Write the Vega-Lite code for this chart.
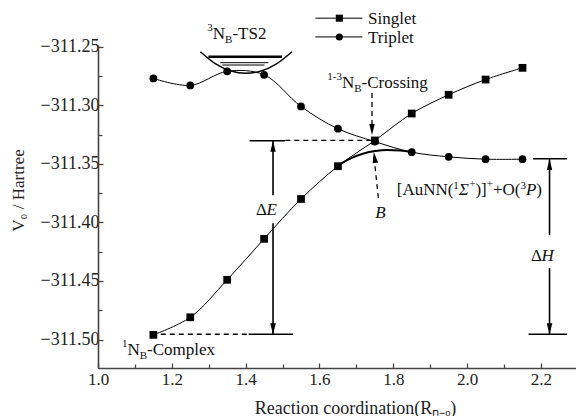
{
  "$schema": "https://vega.github.io/schema/vega-lite/v6.json",
  "width": 478,
  "height": 323,
  "autosize": "none",
  "padding": {"left": 98, "top": 45, "right": 0, "bottom": 48},
  "background": "white",
  "config": {"view": {"stroke": null}, "font": "Liberation Serif"},
  "datasets": {
    "curves": [
      {"series": "Singlet", "x": 1.15, "y": -311.496},
      {"series": "Singlet", "x": 1.25, "y": -311.481},
      {"series": "Singlet", "x": 1.35, "y": -311.449},
      {"series": "Singlet", "x": 1.45, "y": -311.414},
      {"series": "Singlet", "x": 1.55, "y": -311.380},
      {"series": "Singlet", "x": 1.65, "y": -311.352},
      {"series": "Singlet", "x": 1.75, "y": -311.330},
      {"series": "Singlet", "x": 1.85, "y": -311.307},
      {"series": "Singlet", "x": 1.95, "y": -311.291},
      {"series": "Singlet", "x": 2.05, "y": -311.278},
      {"series": "Singlet", "x": 2.15, "y": -311.268},
      {"series": "Triplet", "x": 1.15, "y": -311.277},
      {"series": "Triplet", "x": 1.25, "y": -311.283},
      {"series": "Triplet", "x": 1.35, "y": -311.271},
      {"series": "Triplet", "x": 1.45, "y": -311.274},
      {"series": "Triplet", "x": 1.55, "y": -311.301},
      {"series": "Triplet", "x": 1.65, "y": -311.320},
      {"series": "Triplet", "x": 1.75, "y": -311.331},
      {"series": "Triplet", "x": 1.85, "y": -311.340},
      {"series": "Triplet", "x": 1.95, "y": -311.344},
      {"series": "Triplet", "x": 2.05, "y": -311.346},
      {"series": "Triplet", "x": 2.15, "y": -311.346}
    ],
    "adiab": [
      {"x": 1.6519, "y": -311.351},
      {"x": 1.6835, "y": -311.3455},
      {"x": 1.7196, "y": -311.3412},
      {"x": 1.7512, "y": -311.3391},
      {"x": 1.7829, "y": -311.3382},
      {"x": 1.8190, "y": -311.3385},
      {"x": 1.8500, "y": -311.3400}
    ],
    "arc": [
      {"x": 1.2773, "y": -311.2542},
      {"x": 1.3198, "y": -311.2648},
      {"x": 1.3605, "y": -311.2707},
      {"x": 1.4011, "y": -311.2726},
      {"x": 1.4417, "y": -311.2707},
      {"x": 1.4823, "y": -311.2648},
      {"x": 1.5257, "y": -311.2542}
    ],
    "solidMed": [
      {"x": 1.4108, "x2": 1.5075, "y": -311.3303, "y2": -311.3303},
      {"x": 1.4081, "x2": 1.5284, "y": -311.4955, "y2": -311.4955},
      {"x": 1.4742, "x2": 1.4742, "y": -311.3303, "y2": -311.3767},
      {"x": 1.4742, "x2": 1.4742, "y": -311.4006, "y2": -311.4955},
      {"x": 2.1784, "x2": 2.2704, "y": -311.3456, "y2": -311.3456},
      {"x": 2.1664, "x2": 2.2704, "y": -311.4955, "y2": -311.4955},
      {"x": 2.2233, "x2": 2.2233, "y": -311.3459, "y2": -311.4109},
      {"x": 2.2233, "x2": 2.2233, "y": -311.4391, "y2": -311.4955}
    ],
    "solidThin": [
      {"x": 1.3315, "x2": 1.4616, "y": -311.2636, "y2": -311.2636},
      {"x": 1.337, "x2": 1.451, "y": -311.2656, "y2": -311.2656},
      {"x": 1.5888, "x2": 1.7161, "y": -311.2256, "y2": -311.2256},
      {"x": 1.5888, "x2": 1.7161, "y": -311.2416, "y2": -311.2416}
    ],
    "thick": [
      {"x": 1.299, "x2": 1.4986, "y": -311.2585, "y2": -311.2585}
    ],
    "dashed": [
      {"x": 1.7423, "x2": 1.7423, "y": -311.2895, "y2": -311.322},
      {"x": 1.7596, "x2": 1.7475, "y": -311.3792, "y2": -311.343},
      {"x": 1.5075, "x2": 1.7431, "y": -311.330, "y2": -311.330},
      {"x": 1.17, "x2": 1.4081, "y": -311.4955, "y2": -311.4955}
    ],
    "arrowUp": [
      {"x": 1.4742, "y": -311.3303},
      {"x": 2.2233, "y": -311.3459}
    ],
    "arrowDown": [
      {"x": 1.4742, "y": -311.4955},
      {"x": 2.2233, "y": -311.4955},
      {"x": 1.7423, "y": -311.3254}
    ],
    "arrowB": [
      {"x": 1.7472, "y": -311.3399}
    ],
    "legendPts": [
      {"series": "Singlet", "x": 1.6538, "y": -311.2256},
      {"series": "Triplet", "x": 1.6538, "y": -311.2416}
    ],
    "txt": [
      {"x": 1.3111, "y": -311.2436, "t": "N"},
      {"x": 1.3642, "y": -311.2436, "t": "-TS2"},
      {"x": 1.6611, "y": -311.2855, "t": "N"},
      {"x": 1.7142, "y": -311.2855, "t": "-Crossing"},
      {"x": 1.0799, "y": -311.5134, "t": "N"},
      {"x": 1.1330, "y": -311.5134, "t": "-Complex"},
      {"x": 1.4281, "y": -311.3938, "t": "Δ"},
      {"x": 2.1733, "y": -311.4331, "t": "Δ"},
      {"x": 1.8094, "y": -311.3767, "t": "[AuNN("},
      {"x": 2.0226, "y": -311.3767, "t": ")]"},
      {"x": 2.0700, "y": -311.3767, "t": "+O("},
      {"x": 2.1876, "y": -311.3767, "t": ")"}
    ],
    "legendTxt": [
      {"x": 1.7315, "y": -311.2305, "t": "Singlet"},
      {"x": 1.7315, "y": -311.2468, "t": "Triplet"}
    ],
    "txtI": [
      {"x": 1.4563, "y": -311.3938, "t": "E"},
      {"x": 2.2014, "y": -311.4331, "t": "H"},
      {"x": 1.7512, "y": -311.3963, "t": "B"},
      {"x": 1.9776, "y": -311.3767, "t": "Σ"},
      {"x": 2.1594, "y": -311.3767, "t": "P"}
    ],
    "txtS": [
      {"x": 1.2962, "y": -311.2362, "t": "3"},
      {"x": 1.3444, "y": -311.2472, "t": "B"},
      {"x": 1.6213, "y": -311.2785, "t": "1-3"},
      {"x": 1.6945, "y": -311.2890, "t": "B"},
      {"x": 1.0650, "y": -311.5066, "t": "1"},
      {"x": 1.1133, "y": -311.5168, "t": "B"},
      {"x": 1.9627, "y": -311.3715, "t": "1"},
      {"x": 2.0058, "y": -311.3700, "t": "+"},
      {"x": 2.0532, "y": -311.3700, "t": "+"},
      {"x": 2.1445, "y": -311.3715, "t": "3"}
    ]
  },
  "resolve": {"axis": {"x": "independent", "y": "independent"}},
  "encoding": {
    "x": {"field": "x", "type": "quantitative", "scale": {"domain": [1, 2.295], "nice": false, "zero": false}, "axis": null},
    "y": {"field": "y", "type": "quantitative", "scale": {"domain": [-311.5243, -311.2485], "nice": false, "zero": false}, "axis": null}
  },
  "layer": [
    {
      "data": {"name": "curves"},
      "mark": {"type": "line", "interpolate": "catmull-rom", "stroke": "black", "strokeWidth": 1},
      "encoding": {
        "x": {"field": "x", "type": "quantitative", "scale": {"domain": [1, 2.295], "nice": false, "zero": false},
          "axis": {"orient": "bottom", "values": [1.0, 1.2, 1.4, 1.6, 1.8, 2.0, 2.2], "format": ".1f", "grid": false,
            "labelFont": "Liberation Serif", "labelFontSize": 17, "labelColor": "#222", "labelPadding": 8, "labelFlush": false,
            "tickSize": -5, "tickColor": "#444", "tickWidth": 1.3, "domainColor": "#444", "domainWidth": 1.6,
            "title": "Reaction  coordination(R\u2099\u208b\u2092)", "titleFont": "Liberation Serif", "titleFontSize": 18, "titleFontWeight": "normal", "titleColor": "#222",
            "titleX": 257, "titleY": 40, "titleBaseline": "middle"}},
        "y": {"field": "y", "type": "quantitative", "scale": {"domain": [-311.5243, -311.2485], "nice": false, "zero": false},
          "axis": {"orient": "left", "values": [-311.5, -311.45, -311.4, -311.35, -311.3, -311.25], "format": ".2f", "grid": false,
            "labelFont": "Liberation Serif", "labelFontSize": 18, "labelColor": "#222", "labelPadding": 4, "labelFlush": false,
            "tickSize": -5, "tickColor": "#444", "tickWidth": 1.3, "domainColor": "#444", "domainWidth": 1.6,
            "title": "V\u2080 / Hartree", "titleFont": "Liberation Serif", "titleFontSize": 17, "titleFontWeight": "normal", "titleColor": "#222",
            "titleX": -80, "titleY": 145, "titleAngle": 270, "titleBaseline": "middle", "titleAlign": "center"}},
        "detail": {"field": "series"}
      }
    },
    {
      "data": {"name": "curves"},
      "mark": {"type": "point", "filled": true, "fill": "black", "stroke": null, "size": 60, "opacity": 1},
      "encoding": {
        "x": {"field": "x", "type": "quantitative", "scale": {"domain": [1, 2.295], "nice": false, "zero": false},
          "axis": {"orient": "bottom", "values": [1.1, 1.3, 1.5, 1.7, 1.9, 2.1], "labels": false, "grid": false, "domain": false,
            "tickSize": -4, "tickColor": "#444", "tickWidth": 1.3, "title": null}},
        "y": {"field": "y", "type": "quantitative", "scale": {"domain": [-311.5243, -311.2485], "nice": false, "zero": false},
          "axis": {"orient": "left", "values": [-311.475, -311.425, -311.375, -311.325, -311.275], "labels": false, "grid": false, "domain": false,
            "tickSize": -4, "tickColor": "#444", "tickWidth": 1.3, "title": null}},
        "shape": {"field": "series", "type": "nominal", "scale": {"domain": ["Singlet", "Triplet"], "range": ["square", "circle"]}, "legend": null}
      }
    },
    {
      "data": {"name": "legendPts"},
      "mark": {"type": "point", "filled": true, "fill": "black", "stroke": null, "size": 50, "opacity": 1},
      "encoding": {
        "shape": {"field": "series", "type": "nominal", "scale": {"domain": ["Singlet", "Triplet"], "range": ["square", "circle"]}, "legend": null}
      }
    },
    {
      "data": {"name": "adiab"},
      "mark": {"type": "line", "interpolate": "monotone", "stroke": "black", "strokeWidth": 2},
      "encoding": {}
    },
    {
      "data": {"name": "arc"},
      "mark": {"type": "line", "interpolate": "monotone", "stroke": "black", "strokeWidth": 1.4},
      "encoding": {}
    },
    {
      "data": {"name": "solidMed"},
      "mark": {"type": "rule", "stroke": "black", "strokeWidth": 1.6},
      "encoding": {"x2": {"field": "x2"}, "y2": {"field": "y2"}}
    },
    {
      "data": {"name": "solidThin"},
      "mark": {"type": "rule", "stroke": "black", "strokeWidth": 1},
      "encoding": {"x2": {"field": "x2"}, "y2": {"field": "y2"}}
    },
    {
      "data": {"name": "thick"},
      "mark": {"type": "rule", "stroke": "black", "strokeWidth": 2.6},
      "encoding": {"x2": {"field": "x2"}, "y2": {"field": "y2"}}
    },
    {
      "data": {"name": "dashed"},
      "mark": {"type": "rule", "stroke": "black", "strokeWidth": 1.3, "strokeDash": [5, 4]},
      "encoding": {"x2": {"field": "x2"}, "y2": {"field": "y2"}}
    },
    {
      "data": {"name": "arrowUp"},
      "mark": {"type": "point", "shape": "M0,0L0.55,2.2L-0.55,2.2Z", "size": 100, "filled": true, "fill": "black", "stroke": null, "opacity": 1},
      "encoding": {}
    },
    {
      "data": {"name": "arrowDown"},
      "mark": {"type": "point", "shape": "M0,0L0.55,-2.2L-0.55,-2.2Z", "size": 100, "filled": true, "fill": "black", "stroke": null, "opacity": 1},
      "encoding": {}
    },
    {
      "data": {"name": "arrowB"},
      "mark": {"type": "point", "shape": "M0,0L0.55,2.2L-0.55,2.2Z", "size": 100, "angle": 352, "filled": true, "fill": "black", "stroke": null, "opacity": 1},
      "encoding": {}
    },
    {
      "data": {"name": "txt"},
      "mark": {"type": "text", "font": "Liberation Serif", "fontSize": 17, "align": "left", "baseline": "alphabetic", "fill": "#111"},
      "encoding": {"text": {"field": "t"}}
    },
    {
      "data": {"name": "legendTxt"},
      "mark": {"type": "text", "font": "Liberation Serif", "fontSize": 17, "align": "left", "baseline": "alphabetic", "fill": "#111"},
      "encoding": {"text": {"field": "t"}}
    },
    {
      "data": {"name": "txtI"},
      "mark": {"type": "text", "font": "Liberation Serif", "fontSize": 17, "fontStyle": "italic", "align": "left", "baseline": "alphabetic", "fill": "#111"},
      "encoding": {"text": {"field": "t"}}
    },
    {
      "data": {"name": "txtS"},
      "mark": {"type": "text", "font": "Liberation Serif", "fontSize": 11, "align": "left", "baseline": "alphabetic", "fill": "#111"},
      "encoding": {"text": {"field": "t"}}
    }
  ]
}
